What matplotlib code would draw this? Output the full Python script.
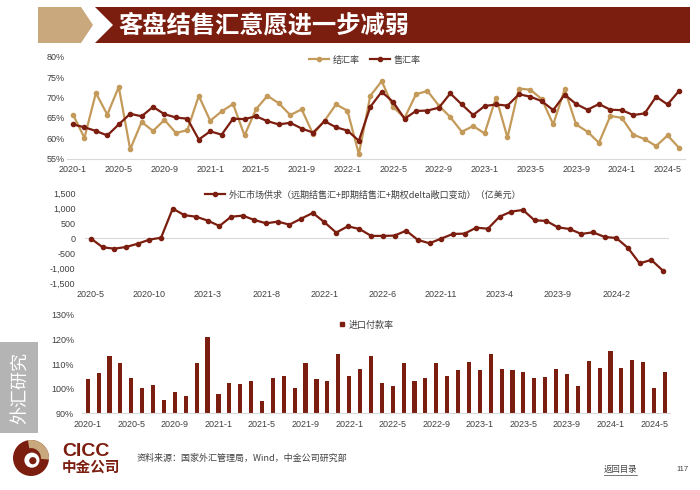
import matplotlib
matplotlib.use("Agg")
import matplotlib.pyplot as plt
import matplotlib.patches as mpatches
from matplotlib.lines import Line2D
from matplotlib.ticker import FuncFormatter
import pandas as pd

plt.rcParams["font.family"] = ["Liberation Sans", "Noto Sans CJK SC", "DejaVu Sans"]

DARK = "#7B1E10"
GOLD = "#C49A5A"
TAN = "#C8A87C"
TXT = "#404040"
GRID = "#D9D9D9"

# 月份标签
months_a = [f"{p.year}-{p.month}" for p in pd.period_range("2020-01", "2024-06", freq="M")]
months_b = [f"{p.year}-{p.month}" for p in pd.period_range("2020-05", "2024-06", freq="M")]

# 结汇率 / 售汇率 (%)
jiehui = [65.8, 60.1, 71.1, 65.8, 72.6, 57.3, 64.0, 61.8, 64.5, 61.3,
          62.0, 70.4, 64.3, 66.6, 68.4, 60.7, 67.1, 70.4, 68.6, 65.7,
          67.1, 61.0, 64.3, 68.3, 66.8, 56.1, 70.4, 74.0, 67.7, 65.0,
          70.8, 71.6, 68.0, 65.2, 61.6, 63.0, 61.2, 70.0, 60.2, 72.2,
          71.9, 69.6, 63.4, 72.0, 63.4, 61.6, 58.9, 65.5, 65.0, 60.9,
          59.8, 58.1, 60.7, 57.7]
shouhui = [63.4, 62.7, 61.8, 60.7, 63.4, 66.0, 65.4, 67.7, 65.9, 65.1,
           64.8, 59.7, 61.7, 60.9, 64.8, 64.7, 65.4, 64.2, 63.4, 63.8,
           62.4, 61.4, 64.2, 62.7, 61.9, 59.4, 67.7, 71.4, 68.9, 64.8,
           66.7, 66.8, 67.5, 71.0, 68.3, 65.7, 67.9, 68.3, 68.0, 70.8,
           70.2, 69.1, 66.9, 70.7, 68.4, 67.0, 68.4, 67.0, 66.9, 65.7,
           66.1, 70.2, 68.3, 71.6]

# 外汇市场供求 (亿美元)
supply = [-10, -300, -345, -290, -180, -45, 20, 990, 770, 720,
          590, 410, 720, 755, 610, 500, 555, 455, 655, 845,
          535, 190, 400, 310, 80, 80, 90, 255, -55, -165,
          -10, 145, 155, 355, 320, 720, 890, 945, 600, 580,
          365, 310, 145, 200, 45, 10, -320, -835, -720, -1080]

# 进口付款率 (%)
import_pay = [103.8, 106.4, 113.4, 110.3, 104.2, 100.1, 101.4, 95.4, 98.8, 97.2,
              110.3, 120.9, 98.0, 102.4, 101.9, 103.0, 94.9, 104.2, 105.0, 100.3,
              110.5, 103.9, 103.0, 114.1, 105.0, 108.1, 113.4, 102.2, 101.1, 110.5,
              103.0, 104.2, 110.3, 105.0, 107.8, 110.9, 107.8, 114.1, 108.1, 107.6,
              107.0, 104.2, 104.6, 108.2, 106.1, 101.1, 111.1, 108.6, 115.4, 108.4,
              111.8, 110.7, 100.3, 106.9]

W, H = 700, 490
fig = plt.figure(figsize=(7, 4.9), dpi=100)


def px_axes(l, t, r, b):
    return fig.add_axes([l / W, 1 - b / H, (r - l) / W, (b - t) / H])


# 背景层: 标题栏、侧栏、页脚
bg = fig.add_axes([0, 0, 1, 1])
bg.set_xlim(0, W)
bg.set_ylim(H, 0)
bg.axis("off")
bg.add_patch(mpatches.Polygon([(38, 7), (81, 7), (93, 25), (81, 43), (38, 43)], color=TAN, lw=0))
bg.add_patch(mpatches.Polygon([(95, 7), (690, 7), (690, 43), (95, 43), (113, 25)], color=DARK, lw=0))
bg.text(118, 25, "客盘结售汇意愿进一步减弱", color="white", fontsize=17.5, fontweight="bold",
        family=["Noto Sans CJK SC"], va="center", ha="left")
bg.add_patch(mpatches.Rectangle((0, 342), 38, 91, color="#B4B4B4", lw=0))
bg.text(20, 388, "外汇研究", rotation=90, color="white", fontsize=13,
        family=["Noto Sans CJK SC"], ha="center", va="center")
bg.text(62, 451, "CICC", color=DARK, fontsize=14, fontweight="bold", va="center")
bg.text(62, 467, "中金公司", color=DARK, fontsize=10.5, fontweight="bold",
        family=["Noto Sans CJK SC"], va="center")
bg.text(137, 458, "资料来源：国家外汇管理局，Wind，中金公司研究部", color=TXT, fontsize=6.5,
        family=["Noto Sans CJK SC", "Liberation Sans"], va="center")
bg.text(604, 469, "返回目录", color=TXT, fontsize=6, family=["Noto Sans CJK SC"], va="center")
bg.plot([604, 637], [475, 475], color=TXT, lw=0.5)
bg.text(676, 469, "117", color=TXT, fontsize=5.5, va="center")

# logo
lg = px_axes(13, 440, 49, 476)
lg.set_xlim(-1, 1)
lg.set_ylim(-1, 1)
lg.set_aspect("equal")
lg.axis("off")
lg.add_patch(mpatches.Circle((0, 0), 1, color=DARK, lw=0))
lg.add_patch(mpatches.Wedge((0, 0), 1, -5, 100, width=0.45, color=TAN, lw=0))
lg.add_patch(mpatches.Circle((0.05, -0.12), 0.42, color="white", lw=0))
lg.add_patch(mpatches.Circle((0.1, -0.15), 0.2, color=DARK, lw=0))


def style(ax, bottom_line=True):
    for s in ["top", "right", "left"]:
        ax.spines[s].set_visible(False)
    if bottom_line:
        ax.spines["bottom"].set_color(GRID)
        ax.spines["bottom"].set_linewidth(0.8)
    else:
        ax.spines["bottom"].set_visible(False)
    ax.tick_params(length=0, labelsize=6.5, labelcolor=TXT)
    ax.patch.set_alpha(0)


# 上图: 结汇率 / 售汇率
ax1 = px_axes(67.3, 56.7, 684.7, 158.7)
x1 = range(len(months_a))
ax1.plot(x1, jiehui, color=GOLD, lw=1.6, marker="o", ms=3, label="结汇率")
ax1.plot(x1, shouhui, color=DARK, lw=1.6, marker="o", ms=3, label="售汇率")
ax1.set_xlim(-0.5, len(months_a) - 0.5)
ax1.set_ylim(55, 80)
ax1.set_yticks(range(55, 81, 5))
ax1.yaxis.set_major_formatter(FuncFormatter(lambda v, p: f"{v:.0f}%"))
ax1.set_xticks(range(0, len(months_a), 4))
ax1.set_xticklabels(months_a[::4])
style(ax1)
ax1.tick_params(axis="y", pad=2)
ax1.tick_params(axis="x", pad=4.5)
ax1.legend(loc="center", bbox_to_anchor=(0.482, 0.967), ncol=2, frameon=False,
           fontsize=6.5, handlelength=2.2, columnspacing=1.2, handletextpad=0.4,
           labelcolor=TXT)

# 中图: 外汇市场供求
ax2 = px_axes(85.2, 193.3, 668.8, 283.3)
x2 = range(len(months_b))
ax2.axhline(0, color=GRID, lw=0.8, zorder=0)
ax2.plot(x2, supply, color=DARK, lw=1.6, marker="o", ms=3,
         label="外汇市场供求（远期结售汇+即期结售汇+期权delta敞口变动）（亿美元）")
ax2.set_xlim(-0.5, len(months_b) - 0.5)
ax2.set_ylim(-1500, 1500)
ax2.set_yticks(range(-1500, 1501, 500))
ax2.yaxis.set_major_formatter(FuncFormatter(lambda v, p: f"{v:,.0f}"))
ax2.set_xticks(range(0, len(months_b), 5))
ax2.set_xticklabels(months_b[::5])
style(ax2, bottom_line=False)
ax2.tick_params(axis="y", pad=7)
ax2.tick_params(axis="x", pad=4.5)
ax2.legend(loc="center", bbox_to_anchor=(0.476, 0.981), frameon=False,
           fontsize=6.5, handlelength=2.2, handletextpad=0.4, labelcolor=TXT,
           prop={"family": ["Noto Sans CJK SC", "Liberation Sans"], "size": 6.5})

# 下图: 进口付款率
ax3 = px_axes(82.3, 315, 670.4, 413.3)
x3 = range(len(months_a))
ax3.bar(x3, import_pay, width=0.38, color=DARK)
ax3.set_xlim(-0.5, len(months_a) - 0.5)
ax3.set_ylim(90, 130)
ax3.set_yticks(range(90, 131, 10))
ax3.yaxis.set_major_formatter(FuncFormatter(lambda v, p: f"{v:.0f}%"))
ax3.set_xticks(range(0, len(months_a), 4))
ax3.set_xticklabels(months_a[::4])
style(ax3)
ax3.tick_params(axis="y", pad=6)
ax3.tick_params(axis="x", pad=5)
h = Line2D([], [], marker="s", ls="", color=DARK, ms=3.5)
ax3.legend([h], ["进口付款率"], loc="center", bbox_to_anchor=(0.482, 0.898), frameon=False,
           fontsize=6.5, handlelength=0.8, handletextpad=0.3, labelcolor=TXT)

fig.savefig("out.png", dpi=100)
print("saved out.png")
